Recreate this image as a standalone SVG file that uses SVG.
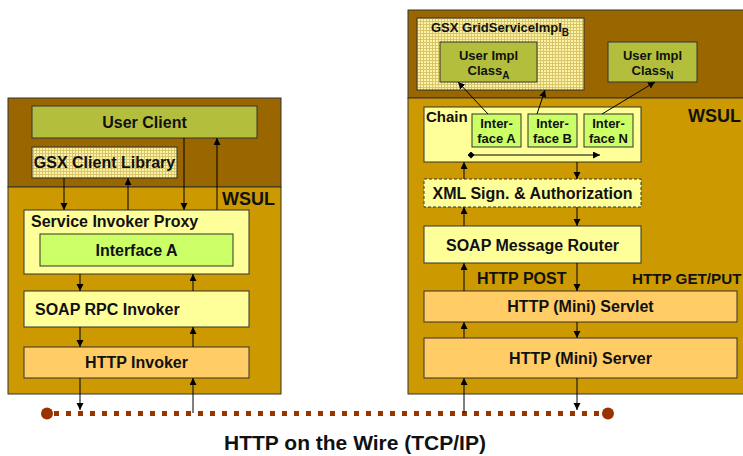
<svg xmlns="http://www.w3.org/2000/svg" width="743" height="456" viewBox="0 0 743 456">
  <defs>
    <pattern id="weave" width="3" height="3" patternUnits="userSpaceOnUse">
      <rect width="3" height="3" fill="#fbf4a8"/>
      <path d="M0,0.5 H3 M0.5,0 V3" stroke="#d9c46a" stroke-width="1"/>
    </pattern>
    <marker id="ah" markerUnits="userSpaceOnUse" markerWidth="8" markerHeight="8" refX="7" refY="3.5" orient="auto">
      <path d="M0,0 L7,3.5 L0,7 z" fill="#000"/>
    </marker>
    <marker id="dm" markerUnits="userSpaceOnUse" markerWidth="8" markerHeight="8" refX="3.5" refY="3.5" orient="auto">
      <path d="M0,3.5 L3.5,0 L7,3.5 L3.5,7 z" fill="#000"/>
    </marker>
  </defs>
  <style>
    text { font-family: "Liberation Sans", Arial, Helvetica, sans-serif; font-weight: bold; fill: #111; }
    .t16 { font-size: 16px; }
    .t13 { font-size: 13px; }
    .mid { text-anchor: middle; }
    .box { stroke: #333; stroke-width: 1; }
    .olive { fill: #b3bf3c; }
    .lime { fill: #ccff66; }
    .pale { fill: #ffff99; }
    .orange { fill: #ffcc66; }
    .tex { fill: url(#weave); }
    .dark { fill: #996600; }
    .gold { fill: #cc9900; }
    .wsul { font-size: 18px; }
    .arr { stroke: #000; stroke-width: 1; fill: none; marker-end: url(#ah); }
  </style>

  <rect width="743" height="456" fill="#fff"/>

  <!-- client side container -->
  <g id="client-host">
    <rect x="8" y="98" width="273" height="89" class="dark box"/>
    <rect x="8" y="187" width="273" height="207" class="gold box"/>
    <text x="222" y="205" class="wsul">WSUL</text>
  </g>
  <g id="user-client">
    <rect x="32" y="106" width="225" height="32" class="olive box"/>
    <text x="144.5" y="128" class="t16 mid">User Client</text>
  </g>
  <g id="gsx-client-library">
    <rect x="32" y="147" width="145" height="31" class="tex box"/>
    <text x="104.5" y="168" class="t16 mid">GSX Client Library</text>
  </g>
  <g id="service-invoker-proxy">
    <rect x="24" y="210" width="225" height="64" class="pale box"/>
    <text x="31" y="227" class="t16">Service Invoker Proxy</text>
  </g>
  <g id="interface-a-client">
    <rect x="40" y="234" width="193" height="32" class="lime box"/>
    <text x="136.5" y="255.5" class="t16 mid">Interface A</text>
  </g>
  <g id="soap-rpc-invoker">
    <rect x="24" y="291" width="225" height="36" class="pale box"/>
    <text x="35" y="314.5" class="t16">SOAP RPC Invoker</text>
  </g>
  <g id="http-invoker">
    <rect x="24" y="347" width="225" height="31" class="orange box"/>
    <text x="136.5" y="368" class="t16 mid">HTTP Invoker</text>
  </g>

  <!-- server side container -->
  <g id="server-host">
    <rect x="408" y="10" width="345" height="88" class="dark box"/>
    <rect x="408" y="98" width="345" height="296" class="gold box"/>
    <text x="688" y="122" class="wsul">WSUL</text>
    <text x="477" y="284" class="t16">HTTP POST</text>
    <text x="632" y="284" style="font-size:15.2px">HTTP GET/PUT</text>
  </g>
  <g id="gsx-gridserviceimpl">
    <rect x="417" y="18" width="167" height="72" class="tex box"/>
    <text x="431" y="32" class="t13">GSX GridServiceImpl<tspan dy="4" font-size="10">B</tspan></text>
  </g>
  <g id="user-impl-class-a">
    <rect x="440" y="42" width="97" height="40" class="olive box"/>
    <text x="488.5" y="60" class="t13 mid">User Impl</text>
    <text x="488.5" y="75" class="t13 mid">Class<tspan dy="4" font-size="10">A</tspan></text>
  </g>
  <g id="user-impl-class-n">
    <rect x="608" y="42" width="89" height="40" class="olive box"/>
    <text x="652.5" y="60" class="t13 mid">User Impl</text>
    <text x="652.5" y="75" class="t13 mid">Class<tspan dy="4" font-size="10">N</tspan></text>
  </g>
  <g id="chain">
    <rect x="424" y="107" width="217" height="55" class="pale box"/>
    <text x="426" y="122" style="font-size:15px">Chain</text>
  </g>
  <g id="interface-a">
    <rect x="472" y="114" width="49" height="33" class="lime box"/>
    <text x="496.5" y="128" class="t13 mid">Inter-</text>
    <text x="496.5" y="143" class="t13 mid">face A</text>
  </g>
  <g id="interface-b">
    <rect x="528" y="114" width="49" height="33" class="lime box"/>
    <text x="552.5" y="128" class="t13 mid">Inter-</text>
    <text x="552.5" y="143" class="t13 mid">face B</text>
  </g>
  <g id="interface-n">
    <rect x="584" y="114" width="49" height="33" class="lime box"/>
    <text x="608.5" y="128" class="t13 mid">Inter-</text>
    <text x="608.5" y="143" class="t13 mid">face N</text>
  </g>
  <g id="xml-sign-authorization">
    <rect x="424" y="179" width="217" height="28" class="pale" stroke="#333" stroke-width="1" stroke-dasharray="3 2"/>
    <text x="532.5" y="198.5" class="t16 mid">XML Sign. &amp; Authorization</text>
  </g>
  <g id="soap-message-router">
    <rect x="424" y="226" width="217" height="37" class="pale box"/>
    <text x="532.5" y="250.5" class="t16 mid">SOAP Message Router</text>
  </g>
  <g id="http-mini-servlet">
    <rect x="424" y="291" width="313" height="31" class="orange box"/>
    <text x="580.5" y="312" class="t16 mid">HTTP (Mini) Servlet</text>
  </g>
  <g id="http-mini-server">
    <rect x="424" y="338" width="313" height="40" class="orange box"/>
    <text x="580.5" y="363.5" class="t16 mid">HTTP (Mini) Server</text>
  </g>

  <!-- the wire between both hosts -->
  <g id="wire">
    <line x1="54" y1="413.5" x2="602" y2="413.5" stroke="#993300" stroke-width="5" stroke-dasharray="5 7"/>
    <circle cx="47" cy="413.5" r="6" fill="#993300"/>
    <circle cx="608" cy="413.5" r="6" fill="#993300"/>
    <text x="355" y="450" class="mid" style="font-size:21px">HTTP on the Wire (TCP/IP)</text>
  </g>

  <g id="connectors">
    <!-- client side -->
    <line x1="64" y1="178" x2="64" y2="210" class="arr"/>
    <line x1="128" y1="210" x2="128" y2="178" class="arr"/>
    <line x1="184" y1="138" x2="184" y2="210" class="arr"/>
    <line x1="217" y1="210" x2="217" y2="138" class="arr"/>
    <line x1="80" y1="274" x2="80" y2="291" class="arr"/>
    <line x1="193" y1="291" x2="193" y2="274" class="arr"/>
    <line x1="80" y1="327" x2="80" y2="347" class="arr"/>
    <line x1="193" y1="347" x2="193" y2="327" class="arr"/>
    <line x1="80" y1="378" x2="80" y2="410" class="arr"/>
    <line x1="193" y1="413" x2="193" y2="378" class="arr"/>
    <!-- server side -->
    <line x1="488" y1="114" x2="458" y2="82" class="arr"/>
    <line x1="537" y1="114" x2="545" y2="90" class="arr"/>
    <line x1="602" y1="114" x2="655" y2="82" class="arr"/>
    <line x1="471" y1="155" x2="600" y2="155" class="arr" marker-start="url(#dm)"/>
    <line x1="464" y1="179" x2="464" y2="162" class="arr"/>
    <line x1="577" y1="162" x2="577" y2="179" class="arr"/>
    <line x1="464" y1="226" x2="464" y2="207" class="arr"/>
    <line x1="577" y1="207" x2="577" y2="226" class="arr"/>
    <line x1="464" y1="291" x2="464" y2="263" class="arr"/>
    <line x1="577" y1="263" x2="577" y2="291" class="arr"/>
    <line x1="464" y1="338" x2="464" y2="322" class="arr"/>
    <line x1="577" y1="322" x2="577" y2="338" class="arr"/>
    <line x1="464" y1="413" x2="464" y2="378" class="arr"/>
    <line x1="577" y1="378" x2="577" y2="410" class="arr"/>
  </g>
</svg>
